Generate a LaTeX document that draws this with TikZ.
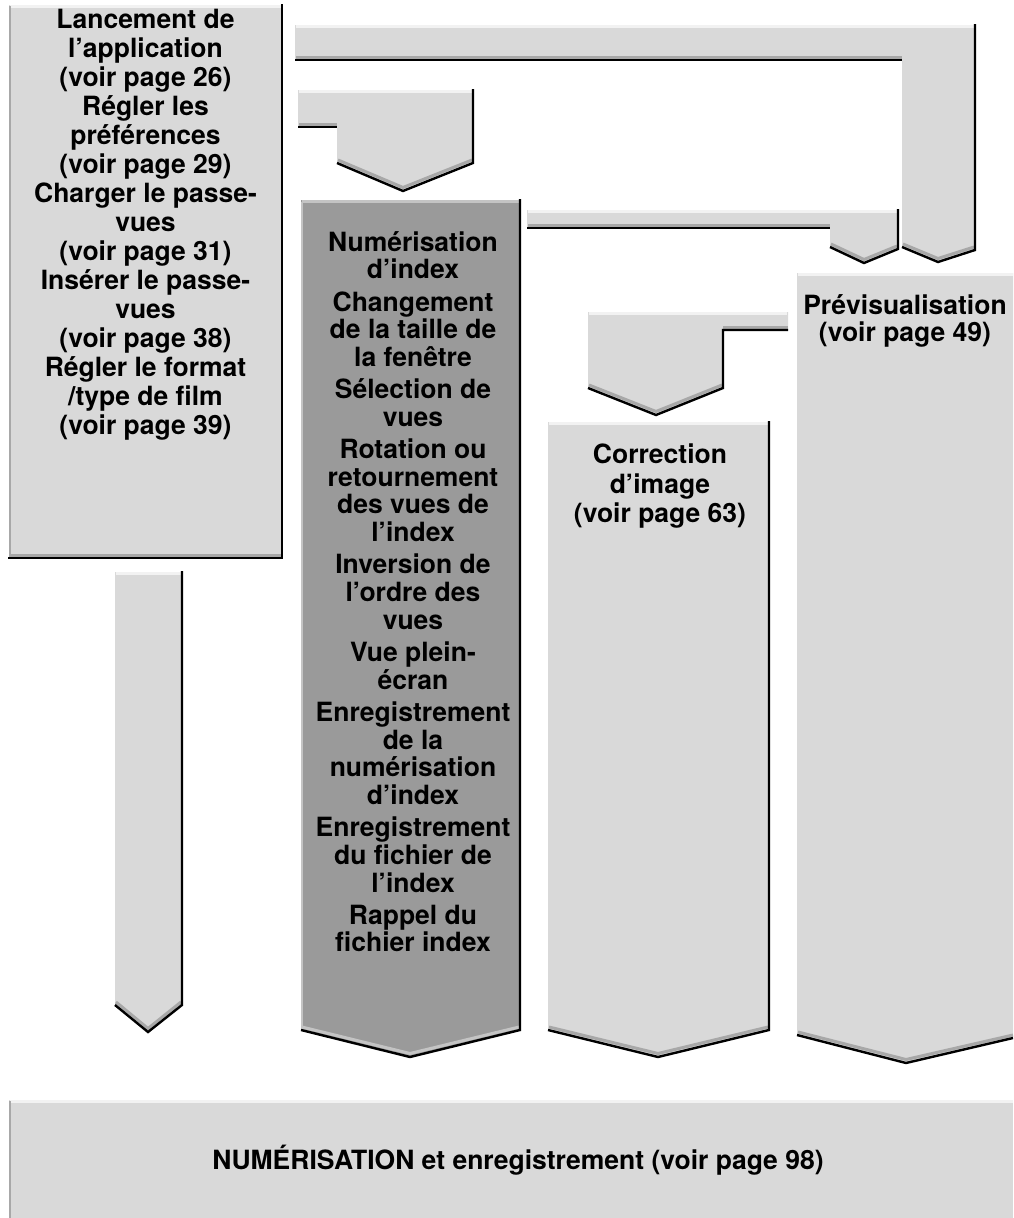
\documentclass[tikz,border=0pt]{standalone}
\usepackage{fontspec}
\setmainfont{TeX Gyre Heros}
\definecolor{panel}{HTML}{D9D9D9}
\definecolor{panelDark}{HTML}{9A9A9A}
\definecolor{rimGray}{HTML}{A8A8A8}
\definecolor{rimSoft}{HTML}{C4C4C4}
\definecolor{rimLight}{HTML}{F2F2F2}

\begin{document}
\begin{tikzpicture}[x=1pt, y=-1pt,
  every node/.style={font=\bfseries\fontsize{26.5}{27.7}\selectfont, align=center, inner sep=0pt},
  edge/.style={line width=2.4pt, black},
  shade/.style={line width=3pt, rimGray},
  glow/.style={line width=3pt, rimLight}]
\useasboundingbox (0,0) rectangle (1013,1218);
% start box
\fill[panel] (9,5) rectangle (282,559);
\draw[glow] (10,6.5) -- (281,6.5);
\draw[line width=1.5pt, rimGray] (9.75,6) -- (9.75,557);
\draw[shade] (10,555.5) -- (281,555.5);
\draw[edge] (282,4) -- (282,558) -- (8,558);
\node[anchor=north, font=\bfseries\fontsize{26.5}{29}\selectfont] (lancement) at (145.5,8.5) {Lancement de\\ l’application\\ (voir page 26)\\
  Régler les\\ préférences\\ (voir page 29)\\
  Charger le passe-\\ vues\\ (voir page 31)\\
  Insérer le passe-\\ vues\\ (voir page 38)\\
  Régler le format\\ /type de film\\ (voir page 39)};
% down arrow under the start box
\fill[panel] (115,572) -- (182,572) -- (182,1005) -- (148,1032) -- (115,1005) -- cycle;
\draw[glow] (116,573.5) -- (181,573.5);
\draw[shade] (116,1002) -- (148,1028.5) -- (181,1002);
\draw[edge] (182,571) -- (182,1005) -- (148,1032) -- (115,1005);
% long bracket to the preview column
\fill[panel] (295,25) -- (975,25) -- (975,250) -- (938,262) -- (902,247) -- (902,60) -- (295,60) -- cycle;
\draw[glow] (296,26.5) -- (974,26.5);
\draw[shade] (296,57) -- (902,57);
\draw[shade] (903,244) -- (938,258.5) -- (974,247);
\draw[edge] (295,60) -- (902,60);
\draw[edge] (975,24) -- (975,250) -- (938,262) -- (902,247);
% short bracket to the index column
\fill[panel] (298,90) -- (473,90) -- (473,163) -- (403,191) -- (337,163) -- (337,127) -- (298,127) -- cycle;
\draw[glow] (299,91.5) -- (472,91.5);
\draw[shade] (299,124) -- (337,124);
\draw[shade] (338,160) -- (403,187.5) -- (472,160);
\draw[edge] (298,127) -- (337,127);
\draw[edge] (473,89) -- (473,163) -- (403,191) -- (337,163);
% index column
\fill[panelDark] (301,200) -- (520,200) -- (520,1030) -- (410,1057) -- (301,1030) -- cycle;
\draw[line width=3pt, rimSoft] (302,201.5) -- (519,201.5);
\draw[line width=1.5pt, rimSoft] (301.75,202) -- (301.75,1029);
\draw[line width=3pt, rimSoft] (302,1027) -- (410,1053.5) -- (519,1027);
\draw[edge] (520,199) -- (520,1030) -- (410,1057) -- (301,1030);
\node[anchor=north] (numerisation) at (413,231) {Numérisation\\ d’index\\[4.5pt]
  Changement\\ de la taille de\\ la fenêtre\\[4.5pt]
  Sélection de\\ vues\\[4.5pt]
  Rotation ou\\ retournement\\ des vues de\\ l’index\\[4.5pt]
  Inversion de\\ l’ordre des\\ vues\\[4.5pt]
  Vue plein-\\ écran\\[4.5pt]
  Enregistrement\\ de la\\ numérisation\\ d’index\\[4.5pt]
  Enregistrement\\ du fichier de\\ l’index\\[4.5pt]
  Rappel du\\ fichier index};
% bracket from the index column
\fill[panel] (527,210) -- (898,210) -- (898,249) -- (864,263) -- (830,247) -- (830,228) -- (527,228) -- cycle;
\draw[glow] (528,211.5) -- (897,211.5);
\draw[shade] (528,225) -- (830,225);
\draw[shade] (831,244) -- (864,259.5) -- (897,246);
\draw[edge] (527,228) -- (830,228);
\draw[edge] (898,209) -- (898,249) -- (864,263) -- (830,247);
% preview column
\fill[panel] (797,273) -- (1013,273) -- (1013,1038) -- (906,1063) -- (797,1035) -- cycle;
\draw[glow] (798,274.5) -- (1013,274.5);
\draw[shade] (798,1032) -- (906,1059.5) -- (1013,1035);
\draw[edge] (1013,1038) -- (906,1063) -- (797,1035);
\node[anchor=north] (previsu) at (905,294) {Prévisualisation\\ (voir page 49)};
% bracket to the correction column
\fill[panel] (588,312) -- (788,312) -- (788,330) -- (723,330) -- (723,388) -- (656,415) -- (588,388) -- cycle;
\draw[glow] (589,313.5) -- (787,313.5);
\draw[shade] (788,327) -- (723,327);
\draw[shade] (589,385) -- (656,411.5) -- (722,385);
\draw[edge] (788,330) -- (723,330) -- (723,388) -- (656,415) -- (588,388);
% correction column
\fill[panel] (548,422) -- (769,422) -- (769,1030) -- (658,1057) -- (548,1030) -- cycle;
\draw[glow] (549,423.5) -- (768,423.5);
\draw[shade] (549,1027) -- (658,1053.5) -- (768,1027);
\draw[edge] (769,421) -- (769,1030) -- (658,1057) -- (548,1030);
\node[anchor=north, font=\bfseries\fontsize{26.5}{29.5}\selectfont] (correction) at (660,444) {Correction\\ d’image\\ (voir page 63)};
% scan box
\fill[panel] (9,1100) rectangle (1013,1218);
\draw[glow] (10,1101.5) -- (1013,1101.5);
\draw[line width=1.5pt, rimGray] (9.75,1101) -- (9.75,1218);
\node (scan) at (518,1160) {NUMÉRISATION et enregistrement (voir page 98)};
\end{tikzpicture}
\end{document}
